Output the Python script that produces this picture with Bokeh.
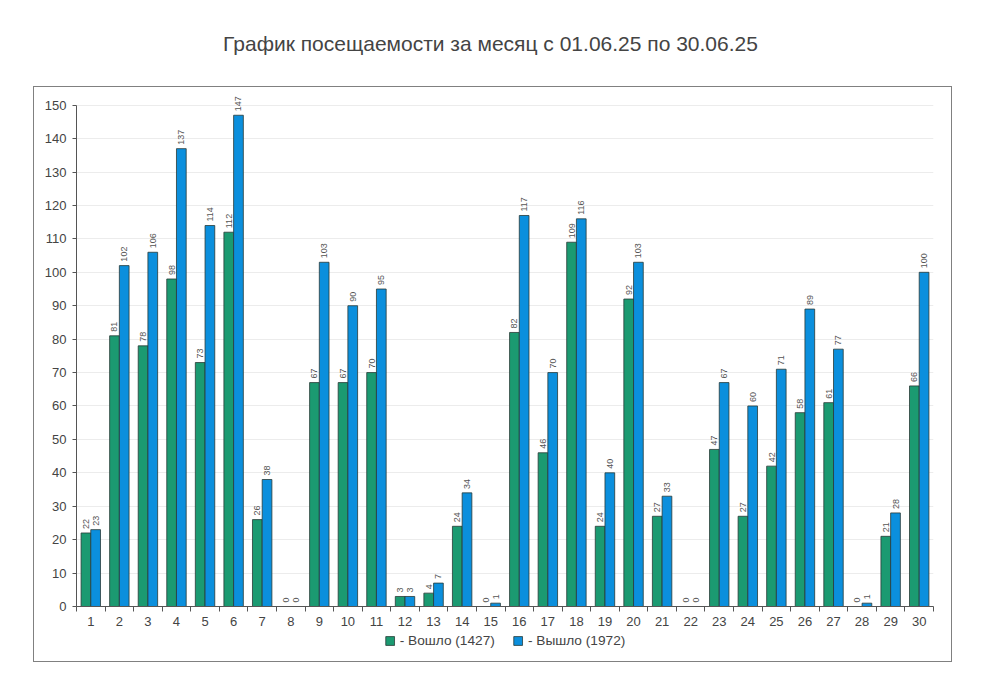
from math import pi

from bokeh.plotting import figure
from bokeh.layouts import column
from bokeh.models import (ColumnDataSource, FixedTicker, LabelSet, Legend,
                          LegendItem, Range1d)
from bokeh.core.properties import value
from bokeh.transform import dodge
from bokeh.embed import file_html
from bokeh.resources import INLINE

# attendance per day, June 2025
days = list(range(1, 31))
entered = [22, 81, 78, 98, 73, 112, 26, 0, 67, 67, 70, 3, 4, 24, 0,
           82, 46, 109, 24, 92, 27, 0, 47, 27, 42, 58, 61, 0, 21, 66]
exited = [23, 102, 106, 137, 114, 147, 38, 0, 103, 90, 95, 3, 7, 34, 1,
          117, 70, 116, 40, 103, 33, 0, 67, 60, 71, 89, 77, 1, 28, 100]
y_ticks = list(range(0, 151, 10))

title = "График посещаемости за месяц с 01.06.25 по 30.06.25"
label_in = "- Вошло (%d)" % sum(entered)
label_out = "- Вышло (%d)" % sum(exited)

GREEN = "#1b9a71"
BLUE = "#0b8fdd"
EDGE = "#2a3a36"
FONT = "Liberation Sans"

source = ColumnDataSource(dict(
    day=days, entered=entered, exited=exited,
    lbl_in=[str(v) for v in entered], lbl_out=[str(v) for v in exited],
))

# title sits outside the framed box, so it gets a strip of its own
head = figure(width=980, height=57, title=title, output_backend="svg",
              toolbar_location=None, x_axis_location=None, y_axis_location=None,
              min_border=0)
head.margin = (29, 0, 0, 0)
head.title.align = "center"
head.title.text_font = FONT
head.title.text_font_size = "21px"
head.title.text_font_style = "normal"
head.title.text_color = "#444444"
head.title.standoff = 0
head.grid.visible = False
head.outline_line_color = None

p = figure(width=917, height=546, x_range=Range1d(0.5, 30.5),
           y_range=Range1d(0, 155), output_backend="svg",
           toolbar_location=None, min_border_left=42, min_border_right=18,
           min_border_top=1, min_border_bottom=27)
p.outline_line_color = None

p.xgrid.grid_line_color = None
p.ygrid.grid_line_color = "#ececec"
p.ygrid.ticker = FixedTicker(ticks=y_ticks)

p.yaxis.ticker = FixedTicker(ticks=y_ticks)
p.yaxis.bounds = (0, 150)
p.xaxis.ticker = FixedTicker(ticks=days, minor_ticks=[d + 0.5 for d in [0] + days])
for ax in (p.xaxis, p.yaxis):
    ax.axis_line_color = "#555555"
    ax.major_label_text_font = FONT
    ax.major_label_text_font_size = "13px"
    ax.major_label_text_color = "#444444"
    ax.major_tick_line_color = "#555555"
    ax.minor_tick_line_color = "#555555"
p.yaxis.major_tick_in = 0
p.yaxis.major_tick_out = 4
p.yaxis.major_label_standoff = 6
p.yaxis.minor_tick_line_color = None
p.xaxis.major_tick_line_color = None
p.xaxis.minor_tick_in = 0
p.xaxis.minor_tick_out = 5
p.xaxis.major_label_standoff = 4

x_in = dodge("day", -0.17, range=p.x_range)
x_out = dodge("day", 0.17, range=p.x_range)

p.vbar(x=x_in, top="entered", width=0.34, source=source,
       fill_color=GREEN, line_color=EDGE, line_width=0.8)
p.vbar(x=x_out, top="exited", width=0.34, source=source,
       fill_color=BLUE, line_color=EDGE, line_width=0.8)

for x, col, txt in ((x_in, "entered", "lbl_in"), (x_out, "exited", "lbl_out")):
    p.add_layout(LabelSet(x=x, y=col, text=txt, source=source, angle=pi / 2,
                          text_align="left", text_baseline="middle",
                          y_offset=4, text_font=value(FONT),
                          text_font_size="9px", text_color="#555555"))

# legend strip under the axis (a legend in a side panel swallows the frame);
# its swatch renderers are hidden, only the legend shows them
foot = figure(width=917, height=28, output_backend="svg", toolbar_location=None,
              x_range=Range1d(0, 1), y_range=Range1d(0, 1),
              x_axis_location=None, y_axis_location=None,
              min_border_left=42, min_border_right=18, min_border_top=0,
              min_border_bottom=0)
foot.grid.visible = False
foot.outline_line_color = None
k_in = foot.vbar(x=[0.5], top=[1], width=1, fill_color=GREEN, line_color=EDGE,
                 line_width=0.8, visible=False)
k_out = foot.vbar(x=[0.5], top=[1], width=1, fill_color=BLUE, line_color=EDGE,
                  line_width=0.8, visible=False)

legend = Legend(items=[LegendItem(label=label_in, renderers=[k_in]),
                       LegendItem(label=label_out, renderers=[k_out])],
                orientation="horizontal", location="top_center")
legend.border_line_color = None
legend.background_fill_alpha = 0
legend.inactive_fill_alpha = 0
legend.label_text_font = FONT
legend.label_text_font_size = "13.7px"
legend.label_text_color = "#444444"
legend.glyph_width = 11
legend.glyph_height = 11
legend.label_standoff = 5
legend.spacing = 17
legend.margin = 0
legend.padding = 0
foot.add_layout(legend)

box = column(p, foot, styles={"border": "1.5px solid #808080"})
box.margin = (0, 0, 0, 33)

page = column(head, box)
open("out.html", "w").write(file_html(page, INLINE))
